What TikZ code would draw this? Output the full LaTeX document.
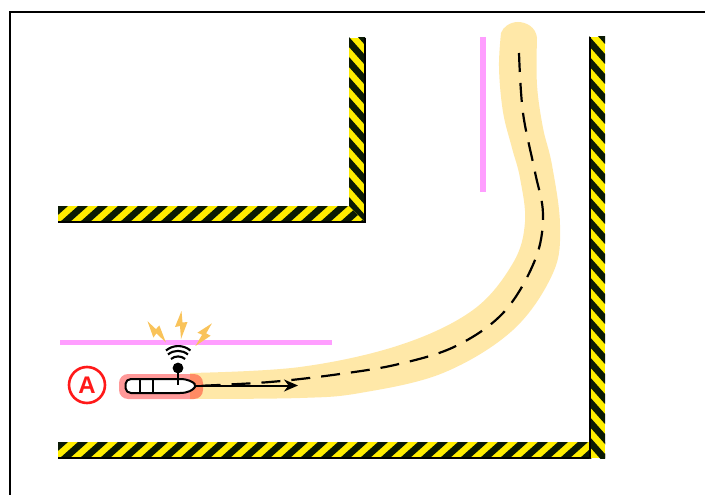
\documentclass[tikz,border=0pt]{standalone}
\usepackage{fontspec}
\setsansfont{Liberation Sans}
\usetikzlibrary{arrows.meta}
\definecolor{hazY}{HTML}{FFEE00}
\definecolor{hazK}{HTML}{0B1A04}
\definecolor{bandC}{HTML}{FFE8A8}
\definecolor{pinkC}{HTML}{FF9EFF}
\definecolor{boltC}{HTML}{F9C35A}
\tikzset{
  frameline/.style={draw=black,line width=2pt},
  edgeline/.style={draw=black,line width=2pt},
  pinkline/.style={draw=pinkC,line width=5pt},
  wave/.style={draw=black,line width=2.1pt},
  shipbody/.style={draw=black,line width=2pt,fill=white,rounded corners=2pt},
  shipline/.style={draw=black,line width=1.8pt},
  pathdash/.style={draw=black,line width=2.2pt,dash pattern=on 19pt off 11pt},
}
\newcommand{\hazH}[3]{% x0, x1, ytop
  \begin{scope}
    \clip (#1,#3) rectangle (#2,#3+16);
    \fill[hazY] (#1,#3) rectangle (#2,#3+16);
    \foreach \s in {#1,\numexpr#1+20\relax,...,\numexpr#2+20\relax}{
      \fill[hazK] (\s-18,#3+16) -- (\s,#3) -- (\s+10,#3) -- (\s-8,#3+16) -- cycle;
    }
  \end{scope}}
\newcommand{\hazV}[3]{% y0, y1, xleft
  \begin{scope}
    \clip (#3,#1) rectangle (#3+16,#2);
    \fill[hazY] (#3,#1) rectangle (#3+16,#2);
    \foreach \s in {#1,\numexpr#1+20\relax,...,\numexpr#2+20\relax}{
      \fill[hazK] (#3,\s-21) -- (#3+16,\s-3) -- (#3+16,\s+7) -- (#3,\s-11) -- cycle;
    }
  \end{scope}}
\newcommand{\boltAt}[3]{%
  \begin{scope}[shift={(#1,#2)},rotate=#3]
  \fill[boltC] (0.5,-14) -- (-6,2) -- (-1,1) -- (0,14) -- (6.5,-3) -- (1.5,-2.5) -- cycle;
  \end{scope}}
\begin{document}
\begin{tikzpicture}[x=1pt,y=-1pt]
\useasboundingbox (0,0) rectangle (705,495);
\fill[white] (0,0) rectangle (705,495);
\draw[frameline] (9.5,500) -- (9.5,12.5) -- (710,12.5);

% route band
\fill[bandC] plot[smooth,tension=0.6] coordinates {(501,33) (499,68) (503,112) (512,148) (520,178) (525,222) (513,263) (473,310) (400,345) (300,367) (190,373)}
  -- plot[smooth,tension=0.6] coordinates {(190,399) (300,398) (360,393) (443,373) (513,330) (553,273) (560,225) (552,165) (543,128) (537,85) (537,38)}
  .. controls (536,27) and (526,22) .. (518,22) .. controls (510,22) and (503,27) .. (501,33) -- cycle;

% hazard walls
\hazH{58}{365}{206}
\begin{scope}
  \clip (349,30) -- (365,30) -- (365,222) -- (349,206) -- cycle;
  \hazV{38}{222}{349}
\end{scope}
\draw[edgeline] (58,221.5) -- (365.5,221.5);
\draw[edgeline] (364.5,38) -- (364.5,222.5);
\hazH{58}{605}{442}
\draw[edgeline] (58,457.5) -- (590,457.5);
\hazV{37}{458}{589}
\draw[edgeline] (589.5,37) -- (589.5,458);

% pink lines
\draw[pinkline] (60,342.5) -- (332,342.5);
\draw[pinkline,line width=6pt] (483,37) -- (483,192);

% bolts
\boltAt{156.5}{332}{42}
\boltAt{181}{325}{0}
\boltAt{203.5}{334.5}{-35}

% planned path
\draw[pathdash] plot[smooth,tension=0.6] coordinates {(519,53) (523,113) (535,172) (543,215) (535,260) (504,312) (456,346) (399,364) (340,374) (270,382) (196,386)};

% ship
\fill[red,opacity=0.4,rounded corners=9pt] (119,374) rectangle (203,399);
\coordinate (shipnose) at (196,385.5);
\coordinate (arrowend) at (298,385.5);
\draw[shipbody] (129,379) -- (178,379) .. controls (188,379) and (193,382) .. (shipnose) .. controls (193,390) and (188,393) .. (178,393) -- (129,393) -- (125.5,390) -- (125.5,382) -- cycle;
\draw[shipline] (140,379) -- (140,393);
\draw[shipline] (153,379) -- (153,393);
\draw[shipline] (178,368) -- (178,385);
\fill[black] (178,368) circle (5.4);
\draw[wave] (171,359) arc[start angle=-130,end angle=-50,radius=11];
\draw[wave] (168,354.5) arc[start angle=-130,end angle=-50,radius=15.5];
\draw[wave] (166,350.5) arc[start angle=-130,end angle=-50,radius=19];
\draw[black,line width=2pt,-{Stealth[length=14pt,width=12pt]}] (shipnose) -- (arrowend);

% label
\node[circle,draw=red!90!white,line width=2.6pt,minimum size=36pt,inner sep=0pt,text=red!90!white,font=\sffamily\bfseries\fontsize{24}{24}\selectfont] (labelA) at (87,385) {A};
\end{tikzpicture}
\end{document}
